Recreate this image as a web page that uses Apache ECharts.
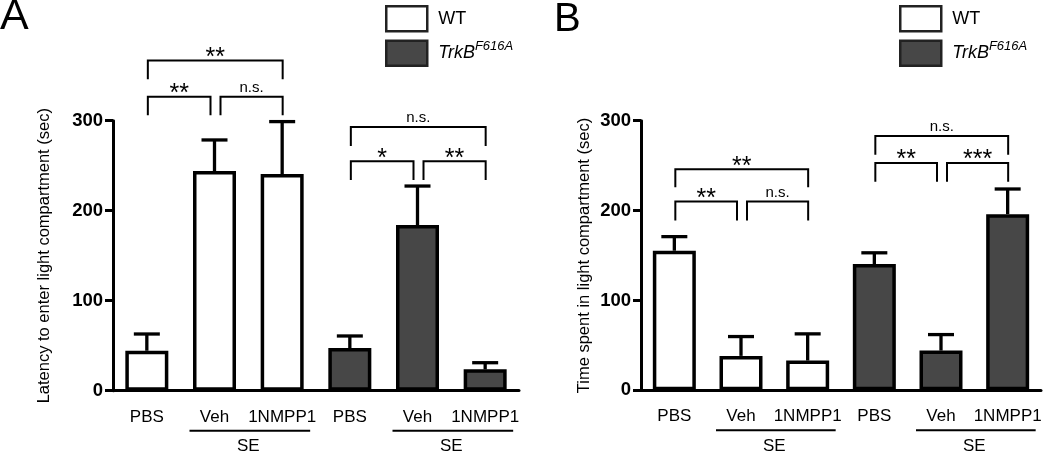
<!DOCTYPE html>
<html><head><meta charset="utf-8">
<script src="https://cdn.jsdelivr.net/npm/echarts@6/dist/echarts.min.js"></script>
<style>html,body{margin:0;padding:0;background:#fff}#c{width:1050px;height:454px}</style>
</head><body><div id="c"></div>
<script>
// ---- data ----
const categories = ['WT PBS','WT SE Veh','WT SE 1NMPP1','TrkB PBS','TrkB SE Veh','TrkB SE 1NMPP1'];
const tickLabels = ['PBS','Veh','1NMPP1','PBS','Veh','1NMPP1'];
const seriesNames = ['WT','TrkB'];
const latencyWT = [44.4, 244, 240.8];
const latencyWTsem = [18.6, 34.6, 58.2];
const latencyTrkB = [47.4, 184, 23.7];
const latencyTrkBsem = [13.4, 43.4, 7.4];
const timeWT = [155.3, 38.3, 33.1];
const timeWTsem = [15.7, 21.5, 29.7];
const timeTrkB = [140.5, 44.2, 196];
const timeTrkBsem = [12.5, 17.8, 28];
// brackets: [fromIndex, toIndex, lineValue, legValue]
const sigA = [[0,2,367,346],[0,1,326.7,306],[1,2,326.7,306],[3,5,293,272],[3,4,255,234],[4,5,255,234]];
const sigAText = ['**','**','n.s.','n.s.','*','**'];
const sigB = [[0,2,246,226],[0,1,210,189],[1,2,210,189],[3,5,283,262],[3,4,253,232],[4,5,253,232]];
const sigBText = ['**','**','n.s.','n.s.','**','***'];
const seGroups = [[1,2],[4,5]];
const groupLabel = 'SE';

const FONT = '"Liberation Sans", Arial, Helvetica, sans-serif';
const DARK = '#474747';

function padWT(a){ return [a[0],a[1],a[2],'-','-','-']; }
function padTrk(a){ return ['-','-','-',a[0],a[1],a[2]]; }
function errData(m, s, off){ return m.map((v,i)=>[i+off, v, s[i]]); }

function errRender(params, api){
  const i = api.value(0), m = api.value(1), s = api.value(2);
  const p0 = api.coord([i, m]), p1 = api.coord([i, m + s]);
  return {type:'group', children:[
    {type:'line', shape:{x1:p0[0],y1:p0[1],x2:p1[0],y2:p1[1]}, style:{stroke:'#000', lineWidth:3.3}},
    {type:'line', shape:{x1:p1[0]-13,y1:p1[1],x2:p1[0]+13,y2:p1[1]}, style:{stroke:'#000', lineWidth:3.3}}
  ]};
}
function bracketRender(texts){
  return function(params, api){
    const i1 = api.value(0), i2 = api.value(1), top = api.value(2), leg = api.value(3);
    const mid = i => (i === 1 || i === 4);
    const xa = api.coord([i1, top])[0] + (mid(i1) ? 6 : 1);
    const xb = api.coord([i2, top])[0] + (mid(i2) ? -4 : 0.5);
    const yt = api.coord([i1, top])[1], yl = api.coord([i1, leg])[1];
    const t = texts[params.dataIndex];
    const star = t.indexOf('*') >= 0;
    return {type:'group', children:[
      {type:'polyline', shape:{points:[[xa,yl],[xa,yt],[xb,yt],[xb,yl]]}, style:{stroke:'#000', lineWidth:2, fill:null}},
      {type:'text', style:{text:t, x:(xa+xb)/2, y: yt - (star ? 2.5 : 9), align:'center', verticalAlign:'middle',
        font: star ? ('25px ' + FONT) : ('15px ' + FONT), fill:'#000'}}
    ]};
  };
}
function seRender(params, api){
  const a = api.coord([api.value(0), 0]), b = api.coord([api.value(1), 0]);
  const y = a[1] + 40;
  return {type:'group', children:[
    {type:'line', shape:{x1:a[0]-25, y1:y, x2:b[0]+28, y2:y}, style:{stroke:'#000', lineWidth:2}},
    {type:'text', style:{text:groupLabel, x:(a[0]+b[0])/2, y:y+16, align:'center', verticalAlign:'middle', font:'17px ' + FONT, fill:'#000'}}
  ]};
}

function xAxis(gi){
  return {type:'category', gridIndex:gi, data:categories,
    axisLine:{lineStyle:{color:'#000', width:3}}, axisTick:{show:false},
    axisLabel:{formatter:(v,i)=>tickLabels[i], color:'#000', fontSize:17, fontFamily:FONT, margin:18, interval:0}};
}
function yAxis(gi, name, gap){
  return {type:'value', gridIndex:gi, min:0, max:300, interval:100, name:name, nameLocation:'middle', nameGap:gap,
    nameTextStyle:{color:'#000', fontSize:16.5, fontFamily:FONT},
    axisLine:{show:true, lineStyle:{color:'#000', width:3}},
    axisTick:{show:true, length:8, lineStyle:{color:'#000', width:3}},
    axisLabel:{color:'#000', fontSize:18.5, fontWeight:'bold', fontFamily:FONT, margin:10},
    splitLine:{show:false}};
}
function bars(name, data, gi, color){
  return {type:'bar', name:name, xAxisIndex:gi, yAxisIndex:gi, data:data, barWidth:43, barGap:'-100%',
    itemStyle:{color:color, borderColor:'#000', borderWidth:3.5}, z:3, silent:true};
}
function errs(data, gi){
  return {type:'custom', name:'err'+gi, xAxisIndex:gi, yAxisIndex:gi, data:data, renderItem:errRender,
    encode:{x:0, y:1}, z:2, clip:false, silent:true};
}
function legend(left){
  return {left:left, top:5, padding:0, orient:'vertical', itemWidth:41, itemHeight:25, itemGap:7, icon:'rect',
    data:seriesNames, selectedMode:false,
    itemStyle:{borderWidth:2.5, borderColor:'#222'},
    formatter: n => n === 'WT' ? '{n|WT}' : '{i|TrkB}{s|F616A}',
    textStyle:{fontSize:18, fontFamily:FONT, color:'#000', padding:[0,0,0,6],
      rich:{n:{fontSize:18, fontFamily:FONT, color:'#000'},
            i:{fontStyle:'italic', fontSize:18, fontFamily:FONT, lineHeight:27, color:'#000'},
            s:{fontStyle:'italic', fontSize:13, fontFamily:FONT, verticalAlign:'top', color:'#000'}}}};
}

const chart = echarts.init(document.getElementById('c'), null, {renderer:'canvas'});
chart.setOption({
  animation:false,
  backgroundColor:'#fff',
  grid:[{left:113, width:406, top:120.7, bottom:63.3},
        {left:641, width:400, top:120.7, bottom:63.7}],
  xAxis:[xAxis(0), xAxis(1)],
  yAxis:[yAxis(0,'Latency to enter light compartment (sec)',60), yAxis(1,'Time spent in light compartment (sec)',48)],
  legend:[legend(385), legend(899)],
  graphic:[
    {type:'text', left:0, top:-4, style:{text:'A', font:'43px ' + FONT, fill:'#000'}},
    {type:'text', left:554, top:0, style:{text:'B', font:'40px ' + FONT, fill:'#000'}}
  ],
  series:[
    bars('WT', padWT(latencyWT), 0, '#fff'),
    bars('TrkB', padTrk(latencyTrkB), 0, DARK),
    errs(errData(latencyWT, latencyWTsem, 0).concat(errData(latencyTrkB, latencyTrkBsem, 3)), 0),
    {type:'custom', name:'sigA', xAxisIndex:0, yAxisIndex:0, data:sigA, renderItem:bracketRender(sigAText), encode:{x:[0,1], y:[2,3]}, clip:false, silent:true},
    {type:'custom', name:'seA', xAxisIndex:0, yAxisIndex:0, data:seGroups.map(g=>[g[0],g[1],0]), renderItem:seRender, encode:{x:[0,1], y:2}, clip:false, silent:true},
    bars('WT', padWT(timeWT), 1, '#fff'),
    bars('TrkB', padTrk(timeTrkB), 1, DARK),
    errs(errData(timeWT, timeWTsem, 0).concat(errData(timeTrkB, timeTrkBsem, 3)), 1),
    {type:'custom', name:'sigB', xAxisIndex:1, yAxisIndex:1, data:sigB, renderItem:bracketRender(sigBText), encode:{x:[0,1], y:[2,3]}, clip:false, silent:true},
    {type:'custom', name:'seB', xAxisIndex:1, yAxisIndex:1, data:seGroups.map(g=>[g[0],g[1],0]), renderItem:seRender, encode:{x:[0,1], y:2}, clip:false, silent:true}
  ]
});
</script></body></html>
